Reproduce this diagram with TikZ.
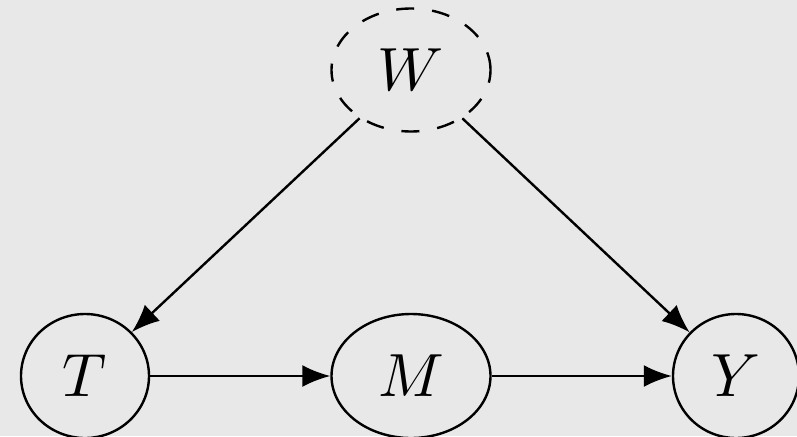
\documentclass[tikz,border=0pt]{standalone}
\usepackage{graphicx}
\usetikzlibrary{shapes.geometric,arrows.meta}
\definecolor{bg}{RGB}{232,232,232}
\newcommand{\bigvar}[1]{\scalebox{6.1}{$#1$}}
\begin{document}
\begin{tikzpicture}[x=1pt,y=-1pt,
  var/.style={draw,ellipse,line width=2.4pt,inner sep=0pt},
  edge/.style={line width=2.4pt,-{Latex[length=28pt,width=22pt]}}]
\fill[bg] (0,0) rectangle (797,436);
\useasboundingbox (0,0) rectangle (797,436);
\node[var,dash pattern=on 18pt off 18pt,minimum width=159pt,minimum height=123pt] (W) at (411,70) {\bigvar{W}};
\node[var,minimum width=128pt,minimum height=124pt] (T) at (85,376) {\bigvar{T}};
\node[var,minimum width=159pt,minimum height=124pt] (M) at (411,376) {\bigvar{M}};
\node[var,minimum width=126pt,minimum height=124pt] (Y) at (736,376) {\bigvar{Y}};
\draw[edge] (W) -- (T);
\draw[edge] (W) -- (Y);
\draw[edge] (T) -- (M);
\draw[edge] (M) -- (Y);
\end{tikzpicture}
\end{document}
